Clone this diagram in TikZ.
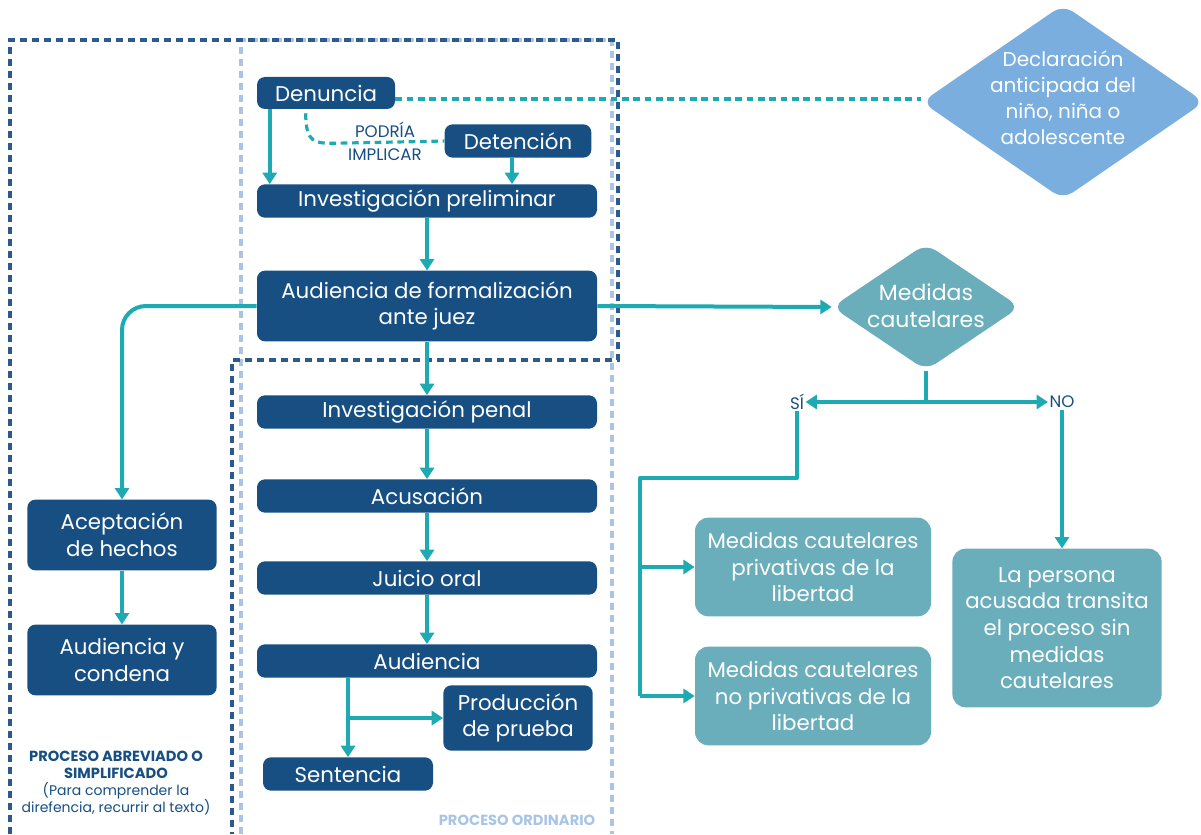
\documentclass[tikz,border=0pt]{standalone}
\usepackage{fontspec}
\setmainfont{Poppins}
\usetikzlibrary{arrows.meta,shapes.geometric,calc}
\definecolor{dblue}{HTML}{174F82}
\definecolor{tealline}{HTML}{1EAAB3}
\definecolor{tboxc}{HTML}{6AADBB}
\definecolor{lblue}{HTML}{7AAEDE}
\definecolor{ddash}{HTML}{2C5A8A}
\definecolor{ldash}{HTML}{A9C4E4}
\begin{document}
\begin{tikzpicture}[x=0.75pt,y=-0.75pt,
  boxfont/.style={font=\fontsize{16}{20}\selectfont},
  db/.style={boxfont, fill=dblue, rounded corners=6pt, text=white, align=center, inner sep=0pt},
  tb/.style={boxfont, fill=tboxc, rounded corners=10pt, text=white, align=center, inner sep=0pt},
  wide/.style={minimum width=255pt, minimum height=25pt},
  dia/.style={diamond, rounded corners=9pt, inner sep=0pt},
  diatext/.style={text=white, align=center, inner sep=0pt},
  arr/.style={draw=tealline, line width=3pt, -{Triangle[width=10.5pt,length=8.5pt]}},
  ln/.style={draw=tealline, line width=3pt},
  tdash/.style={draw=tealline, line width=2.4pt, dash pattern=on 5pt off 3.5pt},
  darkdash/.style={draw=ddash, line width=2.4pt, dash pattern=on 5pt off 4pt},
  lightdash/.style={draw=ldash, line width=2.4pt, dash pattern=on 5pt off 4pt},
  lbl/.style={text=dblue, inner sep=1pt}
]
\useasboundingbox (0,0) rectangle (1201,834);
% regions
\draw[lightdash] (241,834) -- (241,40) -- (612,40) -- (612,834);
\draw[darkdash] (10,834) -- (10,40) -- (618,40) -- (618,360) -- (232,360) -- (232,834);

% nodes
\node[db, minimum width=103.5pt, minimum height=24pt] (den) at (326,93) {Denuncia};
\node[db, minimum width=110pt, minimum height=25pt] (det) at (518,141) {Detención};
\node[db, wide] (ip) at (427,201) {Investigación preliminar};
\node[db, minimum width=255pt, minimum height=53pt] (af) at (427,306) {Audiencia de formalización\\ante juez};
\node[db, wide] (ipen) at (427,412) {Investigación penal};
\node[db, wide] (acu) at (427,496) {Acusación};
\node[db, wide] (jo) at (427,578) {Juicio oral};
\node[db, wide] (aud) at (427,661) {Audiencia};
\node[db, minimum width=112pt, minimum height=49pt] (prod) at (518,718) {Producción\\de prueba};
\node[db, minimum width=127.5pt, minimum height=25pt] (sen) at (348,774) {Sentencia};
\node[db, minimum width=142pt, minimum height=53pt] (ace) at (122,535) {Aceptación\\de hechos};
\node[db, minimum width=142pt, minimum height=53pt] (cond) at (122,660) {Audiencia y\\condena};
\node[tb, minimum width=177pt, minimum height=74pt] (mp) at (813,567) {Medidas cautelares\\privativas de la\\libertad};
\node[tb, minimum width=177pt, minimum height=74pt] (mnp) at (813,696) {Medidas cautelares\\no privativas de la\\libertad};
\node[tb, minimum width=157pt, minimum height=119pt] (per) at (1057,628) {La persona\\acusada transita\\el proceso sin\\medidas\\cautelares};
\node[dia, fill=lblue, minimum width=212pt, minimum height=146pt] (decl) at (1063,102) {};
\node[diatext, font=\fontsize{15}{19.5}\selectfont] (declt) at (1063,98) {Declaración\\anticipada del\\niño, niña o\\adolescente};
\node[dia, fill=tboxc, minimum width=141pt, minimum height=95pt] (mc) at (926,307) {};
\node[diatext, font=\fontsize{16.5}{20}\selectfont] (mct) at (926,306) {Medidas\\cautelares};

% labels
\node[lbl, font=\fontsize{12.5}{14}\selectfont] (pod) at (385,130) {PODRÍA};
\node[lbl, font=\fontsize{12.5}{14}\selectfont] (imp) at (385,155) {IMPLICAR};
\node[lbl, font=\fontsize{12.5}{14}\selectfont] (si) at (797,402) {SÍ};
\node[lbl, font=\fontsize{12.5}{14}\selectfont] (no) at (1062,402) {NO};
\node[text=dblue, align=center, font=\fontsize{10.5}{12.7}\selectfont] (abr) at (116,783)
  {{\bfseries\fontsize{11}{12.7}\selectfont PROCESO ABREVIADO O}\\{\bfseries\fontsize{11}{12.7}\selectfont SIMPLIFICADO}\\(Para comprender la\\direfencia, recurrir al texto)};
\node[text=ldash, font=\bfseries\fontsize{11}{12}\selectfont] (ord) at (517,820) {PROCESO ORDINARIO};

% dashed connectors
\draw[tdash] ([yshift=-4.5pt]den.east) -- ([yshift=-4.5pt]den.east -| decl.west);
\draw[tdash] ($(den.south west)+(49,4)$) .. controls ($(den.south west)+(49,34)$) and ($(den.south west)+(58,34)$) .. ($(den.south west)+(78,34)$) -- (det.west);

% arrows
\draw[arr] ($(den.south west)+(13,0)$) -- ($(ip.north west)+(13,0)$);
\draw[arr] ([xshift=-4.5pt]det.south) -- ([xshift=-4.5pt]det.south |- ip.north);
\draw[arr] (ip) -- (af);
\draw[arr] (af) -- (ipen);
\draw[arr] (ipen) -- (acu);
\draw[arr] (acu) -- (jo);
\draw[arr] (jo) -- (aud);
\draw[arr] (sen.north |- aud.south) -- (sen.north);
\draw[arr] (sen.north |- prod.west) -- (prod.west);
\draw[arr, rounded corners=18pt] (af.west) -| (ace.north);
\draw[arr] (ace) -- (cond);
\draw[arr] (af.east) -- (mc.west);
\coordinate (split) at (mc.south |- si);
\draw[ln] (mc.south) -- (split);
\draw[arr] (split) -- (si.east);
\draw[arr] (split) -- (no.west);
\coordinate (sj) at (640,478);
\draw[ln, line join=round] (si.south) |- (sj) -- (sj |- mnp.west);
\draw[arr] (sj |- mp.west) -- (mp.west);
\draw[arr] (sj |- mnp.west) -- (mnp.west);
\draw[arr] (no.south) -- (no.south |- per.north);
\end{tikzpicture}
\end{document}
